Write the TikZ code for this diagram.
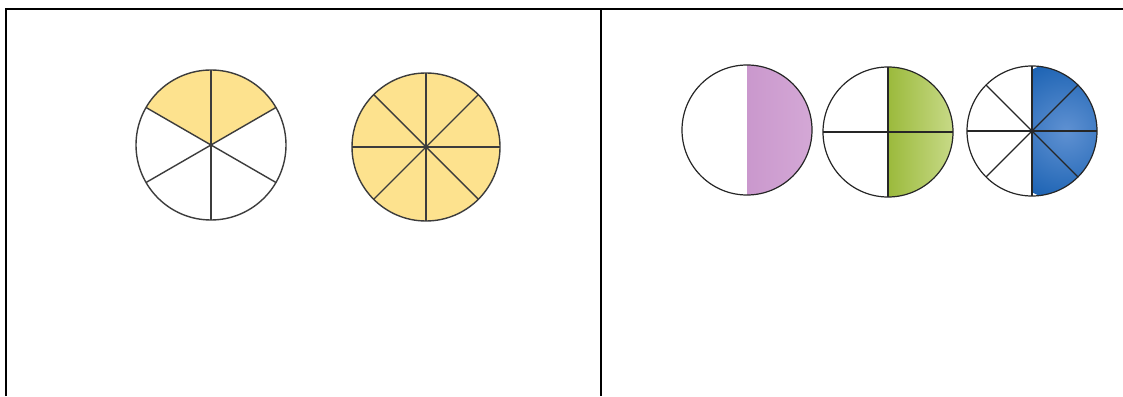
\documentclass[tikz,border=0pt]{standalone}
\definecolor{pieyellow}{RGB}{253,226,142}
\definecolor{pline}{RGB}{60,60,60}
\definecolor{purpleA}{RGB}{202,152,205}
\definecolor{purpleB}{RGB}{212,168,214}
\definecolor{greenA}{RGB}{155,186,60}
\definecolor{greenB}{RGB}{200,218,136}
\definecolor{blueA}{RGB}{30,100,180}
\definecolor{blueB}{RGB}{95,145,210}
\tikzset{
  frame/.style={line width=2pt, black},
  spoke/.style={line width=1.4pt, pline},
  rim/.style={line width=1.4pt, pline},
  spoke2/.style={line width=1.2pt, black!85},
}
\begin{document}
\begin{tikzpicture}[x=1pt,y=1pt]
\useasboundingbox (0,0) rectangle (1123,396);
\fill[white] (0,0) rectangle (1123,396);
% frame
\draw[frame] (6,0) -- (6,387) -- (1123,387);
\draw[frame] (601,0) -- (601,387);
% pie with six sectors, two shaded
\begin{scope}[shift={(211,251)}]
  \fill[pieyellow] (0,0) -- (30:75) arc (30:150:75) -- cycle;
  \foreach \a in {30,90,150,210,270,330} \draw[spoke] (0,0) -- (\a:75);
  \draw[rim] (0,0) circle (75);
\end{scope}
% pie with eight sectors, all shaded
\begin{scope}[shift={(426,249)}]
  \fill[pieyellow] (0,0) circle (74);
  \foreach \a in {0,45,...,315} \draw[spoke] (0,0) -- (\a:74);
  \draw[rim] (0,0) circle (74);
\end{scope}
% halves
\begin{scope}[shift={(747,266)}]
  \begin{scope}
    \clip (0,0) circle (65);
    \shade[left color=purpleA, right color=purpleB] (0,-65) rectangle (66,65);
  \end{scope}
  \draw[spoke2] (0,0) circle (65);
\end{scope}
\begin{scope}[shift={(888,264)}]
  \begin{scope}
    \clip (0,0) circle (65);
    \shade[left color=greenA, right color=greenB] (0,-65) rectangle (66,65);
  \end{scope}
  \draw[spoke2] (-65,0) -- (65,0);
  \draw[spoke2] (0,-65) -- (0,65);
  \draw[spoke2] (0,0) circle (65);
\end{scope}
\begin{scope}[shift={(1032,265)}]
  \begin{scope}
    \clip (0,0) circle (65);
    \clip (0,-65) rectangle (66,65);
    \shade[inner color=blueB, outer color=blueA] (34,0) circle (70);
  \end{scope}
  \foreach \a in {0,45,...,315} \draw[spoke2] (0,0) -- (\a:65);
  \draw[spoke2] (0,0) circle (65);
\end{scope}
\end{tikzpicture}
\end{document}
